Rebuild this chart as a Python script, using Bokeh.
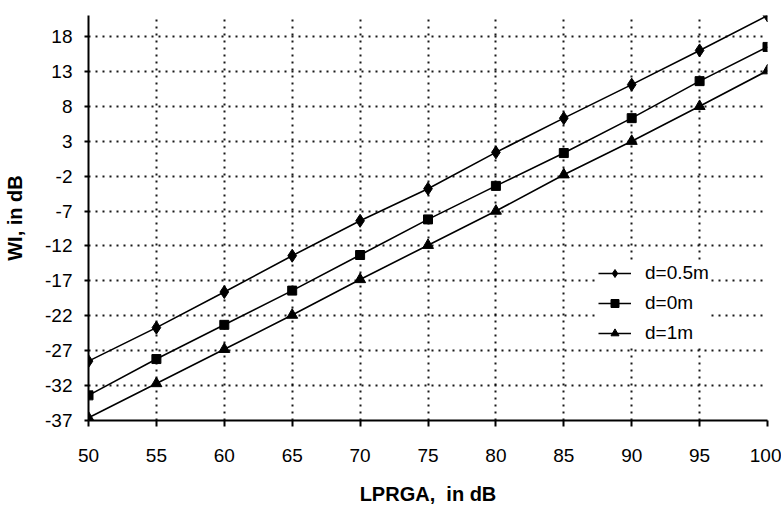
from bokeh.plotting import figure
from bokeh.models import FixedTicker, Legend, LegendItem, Range1d, PrintfTickFormatter
from bokeh.embed import file_html
from bokeh.resources import INLINE

# Data
lprga = [50, 55, 60, 65, 70, 75, 80, 85, 90, 95, 100]
wi_d05 = [-28.5, -23.7, -18.6, -13.4, -8.4, -3.8, 1.4, 6.3, 11.1, 16.0, 21.0]
wi_d0 = [-33.4, -28.2, -23.3, -18.4, -13.3, -8.2, -3.4, 1.3, 6.3, 11.6, 16.5]
wi_d1 = [-36.6, -31.7, -26.8, -21.9, -16.8, -11.9, -7.0, -1.8, 3.0, 8.0, 13.1]
x_ticks = [50, 55, 60, 65, 70, 75, 80, 85, 90, 95, 100]
y_ticks = [-37, -32, -27, -22, -17, -12, -7, -2, 3, 8, 13, 18]
series_labels = ["d=0.5m", "d=0m", "d=1m"]

FONT = "Liberation Sans"

p = figure(width=781, height=507, output_backend="svg", toolbar_location=None,
           x_range=Range1d(50, 100), y_range=Range1d(-37, 21),
           min_border_left=88, min_border_right=14, min_border_top=15,
           min_border_bottom=86)
p.outline_line_color = None
p.background_fill_color = "white"
p.border_fill_color = "white"

# Axes
p.xaxis.ticker = FixedTicker(ticks=x_ticks)
p.yaxis.ticker = FixedTicker(ticks=y_ticks)
p.xaxis.formatter = PrintfTickFormatter(format="%d")
p.yaxis.formatter = PrintfTickFormatter(format="%d")
p.xaxis.axis_label = "LPRGA,\u00a0 in dB"
p.yaxis.axis_label = "WI, in dB"
for ax in (p.xaxis, p.yaxis):
    ax.axis_line_color = "black"
    ax.axis_line_width = 2
    ax.major_tick_line_color = "black"
    ax.major_tick_line_width = 2
    ax.major_tick_in = 0
    ax.minor_tick_line_color = None
    ax.major_label_text_font = FONT
    ax.major_label_text_font_size = "19px"
    ax.major_label_text_color = "black"
    ax.axis_label_text_font = FONT
    ax.axis_label_text_font_size = "20px"
    ax.axis_label_text_font_style = "bold"
    ax.axis_label_text_color = "black"
p.xaxis.major_tick_out = 6
p.yaxis.major_tick_out = 4
p.xaxis.major_label_standoff = 22
p.yaxis.major_label_standoff = 12
p.xaxis.axis_label_standoff = 18
p.yaxis.axis_label_standoff = 16

# Grid
for g in (p.xgrid, p.ygrid):
    g.grid_line_color = "black"
    g.grid_line_dash = "2 5"
    g.grid_line_width = 2
    g.grid_line_alpha = 0.9

# Series
r05l = p.line(lprga, wi_d05, line_color="black", line_width=1.6)
r05m = p.scatter(lprga, wi_d05, marker="diamond", size=13, color="black")
r0l = p.line(lprga, wi_d0, line_color="black", line_width=1.6)
r0m = p.scatter(lprga, wi_d0, marker="square", size=9, color="black")
r1l = p.line(lprga, wi_d1, line_color="black", line_width=1.6)
r1m = p.scatter(lprga, wi_d1, marker="triangle", size=11, color="black")

legend = Legend(items=[
    LegendItem(label=series_labels[0], renderers=[r05l, r05m]),
    LegendItem(label=series_labels[1], renderers=[r0l, r0m]),
    LegendItem(label=series_labels[2], renderers=[r1l, r1m]),
], location=(510, 76))
legend.background_fill_color = "white"
legend.background_fill_alpha = 1.0
legend.border_line_color = None
legend.label_text_font = FONT
legend.label_text_font_size = "19px"
legend.label_text_color = "black"
legend.glyph_width = 33
legend.glyph_height = 20
legend.label_height = 20
legend.label_standoff = 14
legend.spacing = 8
legend.padding = 6
legend.margin = 0
p.add_layout(legend, "center")

open("out.html", "w").write(file_html(p, INLINE))
